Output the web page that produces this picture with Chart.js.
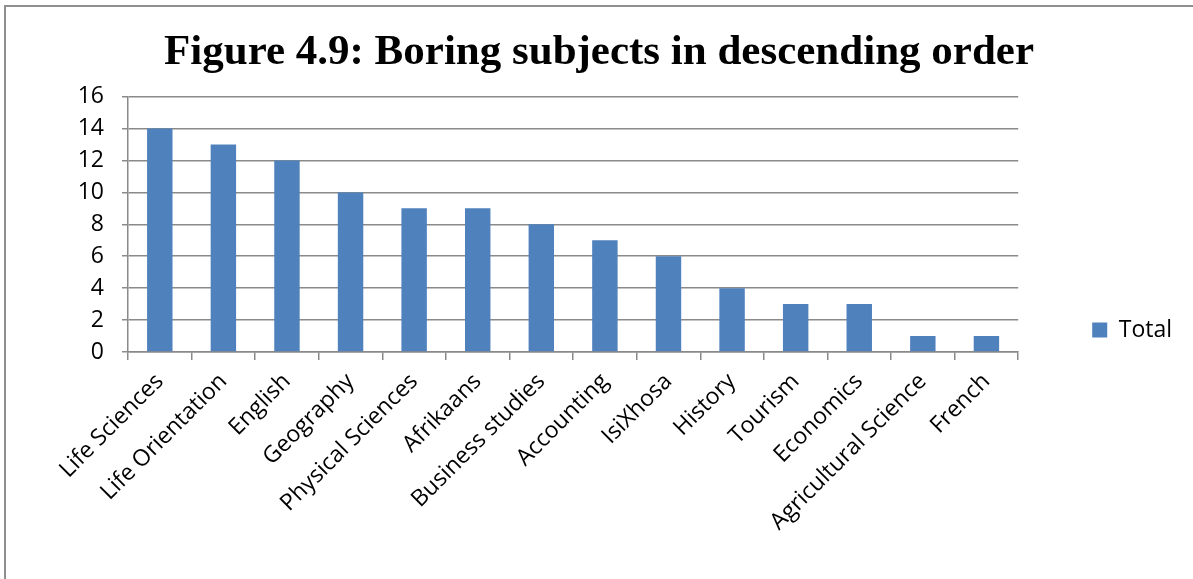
<!DOCTYPE html>
<html>
<head>
<meta charset="utf-8">
<script src="https://cdn.jsdelivr.net/npm/chart.js@4/dist/chart.umd.min.js"></script>
<style>
    html, body { margin: 0; padding: 0; overflow: hidden; background: #fff; width: 1193px; height: 579px; }
    #wrap { position: absolute; left: 0; top: 0; width: 1198px; height: 660px; }
    #frame { position: absolute; left: 4px; top: 5px; width: 1300px; height: 700px;
             border-left: 2px solid #8f8f8f; border-top: 2px solid #8f8f8f; pointer-events: none; }
</style>
</head>
<body>
<div id="wrap"><canvas id="boringChart" width="1198" height="660"></canvas></div>
<div id="frame"></div>
<script>
// ===== DATOS =====
const subjects = [
    'Life Sciences', 'Life Orientation', 'English', 'Geography',
    'Physical Sciences', 'Afrikaans', 'Business studies', 'Accounting',
    'IsiXhosa', 'History', 'Tourism', 'Economics',
    'Agricultural Science', 'French'
];
const totals = [14, 13, 12, 10, 9, 9, 8, 7, 6, 4, 3, 3, 1, 1];
const yTicks = [0, 2, 4, 6, 8, 10, 12, 14, 16];

const axisFont = { family: 'Open Sans', size: 23 };
const gridGray = '#8a8a8a';

// ===== GRÁFICO =====
new Chart(document.getElementById('boringChart'), {
    type: 'bar',
    data: {
        labels: subjects,
        datasets: [{
            label: 'Total',
            data: totals,
            backgroundColor: '#4f81bd',
            borderWidth: 0,
            barPercentage: 0.4,
            categoryPercentage: 1
        }]
    },
    options: {
        responsive: false,
        animation: false,
        layout: { padding: { left: 16, right: 16, top: 0, bottom: 0 } },
        plugins: {
            title: {
                display: true,
                text: 'Figure 4.9: Boring subjects in descending order',
                color: '#000',
                font: { family: 'Liberation Serif', size: 43, weight: 'bold', lineHeight: 1.2 },
                padding: { top: 27, bottom: 18 }
            },
            legend: {
                position: 'right',
                labels: {
                    color: '#000',
                    font: axisFont,
                    boxWidth: 15,
                    boxHeight: 15,
                    padding: 74
                }
            },
            tooltip: { enabled: false }
        },
        scales: {
            x: {
                afterFit: s => { s.height = 308; },
                grid: { drawOnChartArea: false, drawTicks: true, tickLength: 8, color: gridGray, lineWidth: 1.5 },
                border: { color: gridGray, width: 1.5 },
                ticks: { color: '#000', font: axisFont, minRotation: 45, maxRotation: 45, autoSkip: false, padding: 8 }
            },
            y: {
                min: 0,
                max: 16,
                afterFit: s => { s.width = 112; },
                afterBuildTicks: s => { s.ticks = yTicks.map(v => ({ value: v })); },
                grid: { color: gridGray, lineWidth: 1.5, tickLength: 6 },
                border: { color: gridGray, width: 1.5 },
                ticks: { color: '#000', font: axisFont, padding: 18 }
            }
        }
    }
});
</script>
</body>
</html>
